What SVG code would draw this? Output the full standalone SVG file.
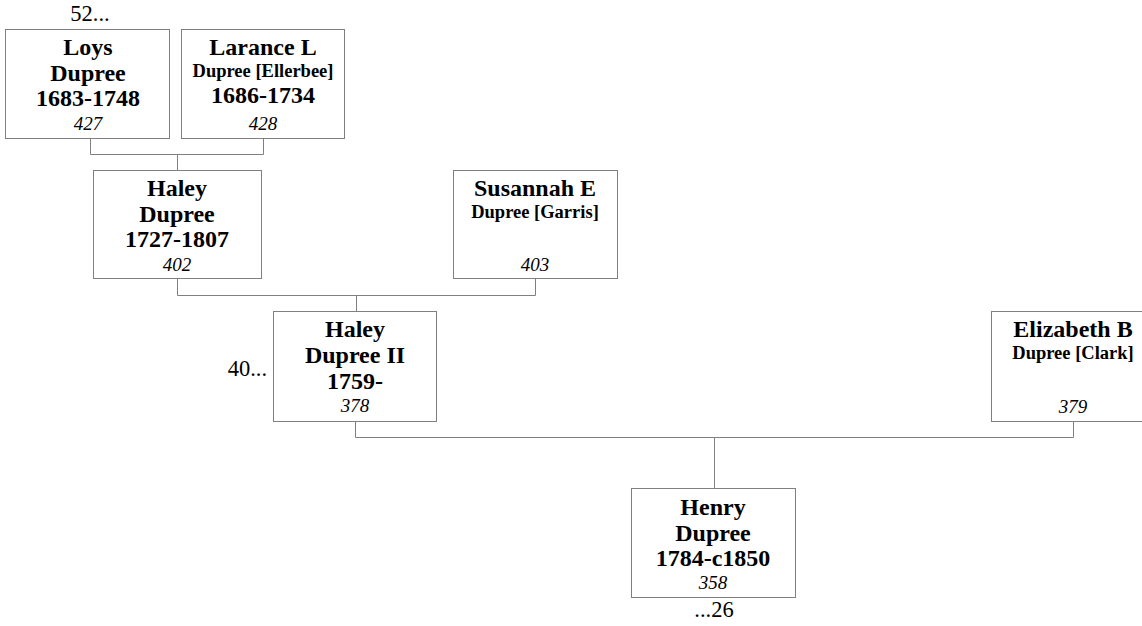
<svg xmlns="http://www.w3.org/2000/svg" width="1142" height="626" viewBox="0 0 1142 626">
<style>
.box{fill:#fff;stroke:#808080;stroke-width:1}
.c{fill:none;stroke:#808080;stroke-width:1}
text{font-family:"Liberation Serif","Times New Roman",serif;fill:#000;text-anchor:middle}
.n{font-size:24px;font-weight:bold}
.s{font-size:18.5px;font-weight:bold}
.i{font-size:19px;font-style:italic}
.l{font-size:22.5px}
</style>
<rect width="1142" height="626" fill="#fff"/>
<g id="connectors">
<path class="c" d="M90.5 138.5V154.5H263.5V138.5M177.5 154.5V170.5"/>
<path class="c" d="M177.5 278.5V295.5H535.5V278.5M356.5 295.5V311.5"/>
<path class="c" d="M355.5 421.5V437.5H1073.5V421.5M714.5 437.5V488.5"/>
</g>
<g id="n427"><rect class="box" x="5.5" y="29.5" width="164" height="109"/>
<text class="n" x="88" y="55">Loys</text><text class="n" x="88" y="81">Dupree</text><text class="n" x="88" y="106">1683-1748</text><text class="i" x="88" y="130">427</text></g>
<g id="n428"><rect class="box" x="181.5" y="29.5" width="163" height="109"/>
<text class="n" x="263" y="55">Larance L</text><text class="s" x="263" y="77">Dupree [Ellerbee]</text><text class="n" x="263" y="103">1686-1734</text><text class="i" x="263" y="130">428</text></g>
<g id="n402"><rect class="box" x="93.5" y="170.5" width="168" height="108"/>
<text class="n" x="177" y="196">Haley</text><text class="n" x="177" y="222">Dupree</text><text class="n" x="177" y="247">1727-1807</text><text class="i" x="177" y="271">402</text></g>
<g id="n403"><rect class="box" x="453.5" y="170.5" width="164" height="108"/>
<text class="n" x="535" y="196">Susannah E</text><text class="s" x="535" y="218">Dupree [Garris]</text><text class="i" x="535" y="271">403</text></g>
<g id="n378"><rect class="box" x="273.5" y="311.5" width="163" height="110"/>
<text class="n" x="355" y="337">Haley</text><text class="n" x="355" y="363">Dupree II</text><text class="n" x="355" y="389">1759-</text><text class="i" x="355" y="412">378</text></g>
<g id="n379"><rect class="box" x="991.5" y="311.5" width="164" height="110"/>
<text class="n" x="1073" y="337">Elizabeth B</text><text class="s" x="1073" y="359">Dupree [Clark]</text><text class="i" x="1073" y="413">379</text></g>
<g id="n358"><rect class="box" x="631.5" y="488.5" width="164" height="109"/>
<text class="n" x="713" y="515">Henry</text><text class="n" x="713" y="541">Dupree</text><text class="n" x="713" y="566">1784-c1850</text><text class="i" x="713" y="589">358</text></g>
<g id="labels">
<text class="l" x="90" y="21">52...</text>
<text class="l" x="267" y="376" style="text-anchor:end">40...</text>
<text class="l" x="714" y="617">...26</text>
</g>
</svg>
